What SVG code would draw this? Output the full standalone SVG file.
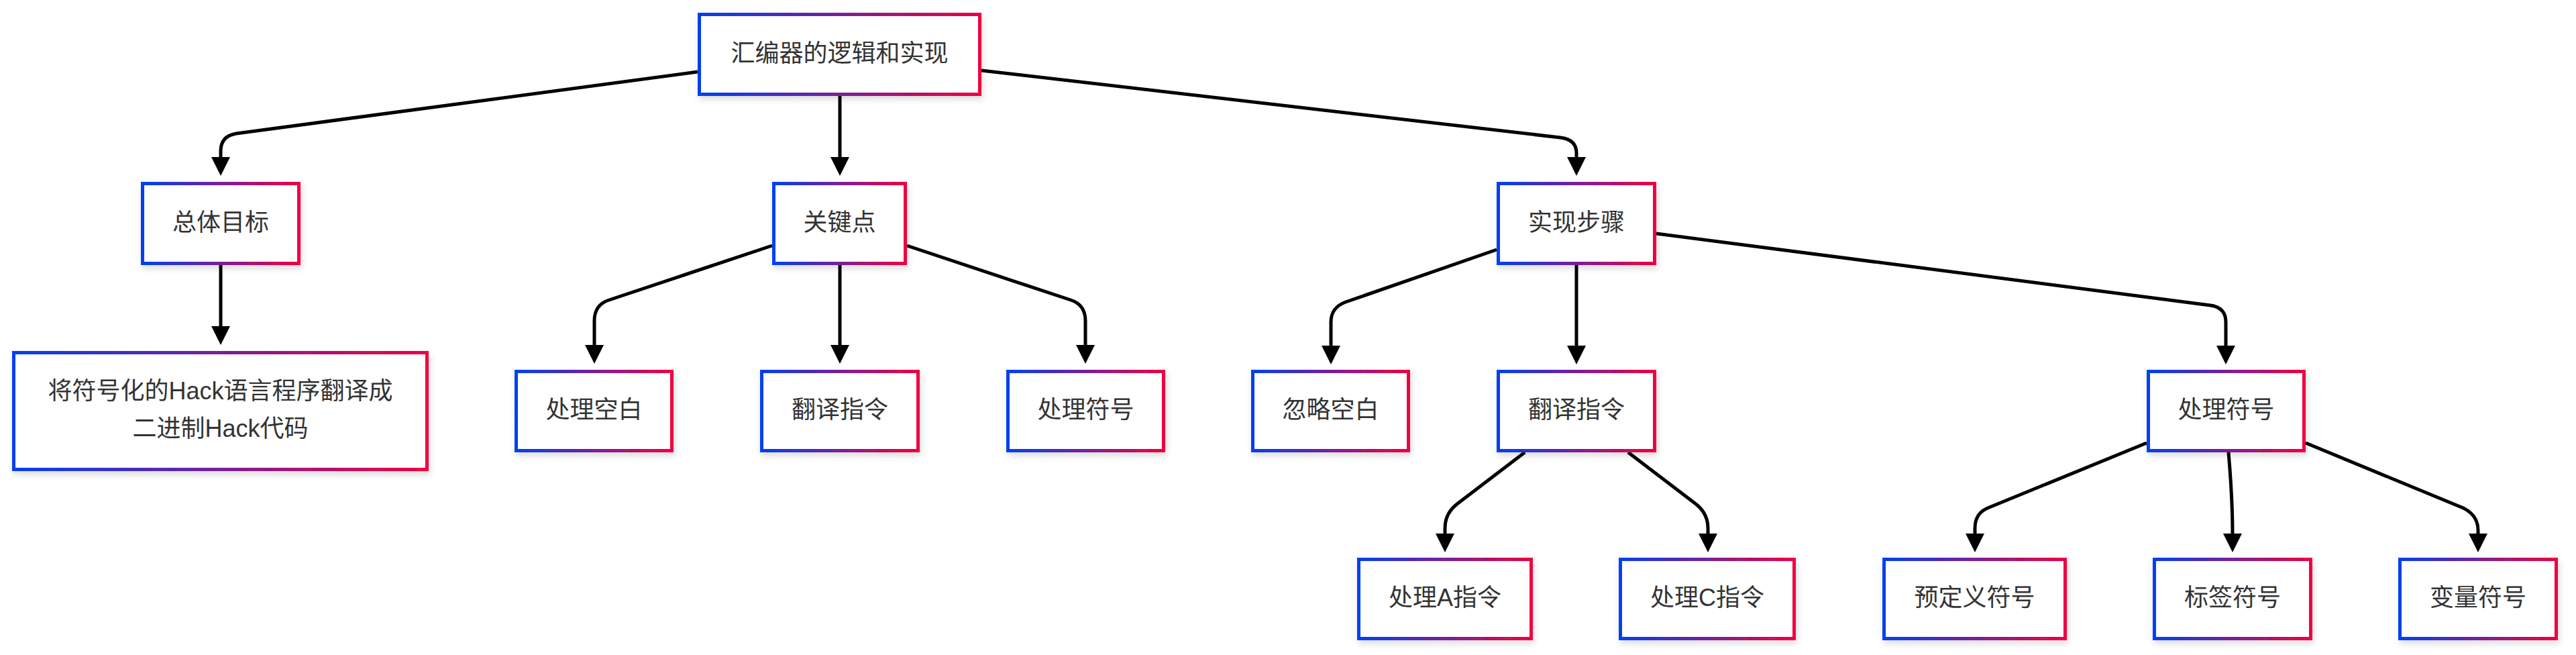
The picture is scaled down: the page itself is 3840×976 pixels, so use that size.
<svg xmlns="http://www.w3.org/2000/svg" width="3840" height="976" viewBox="0 0 3840 976">
<defs>
<linearGradient id="g" x1="0" y1="0" x2="1" y2="0">
<stop offset="0" stop-color="#0040f0"/>
<stop offset="1" stop-color="#f00040"/>
</linearGradient>
<filter id="sh" x="-10%" y="-20%" width="120%" height="150%">
<feDropShadow dx="2" dy="5" stdDeviation="5" flood-color="#000" flood-opacity="0.14"/>
</filter>
<marker id="ah" viewBox="0 0 10 10" refX="0" refY="5" markerUnits="userSpaceOnUse" markerWidth="28" markerHeight="34" orient="auto">
<path d="M0,0 L10,5 L0,10 z" fill="#000"/>
</marker>
<style>
.n rect{fill:#fff;stroke:url(#g);stroke-width:5;filter:url(#sh)}
.n text{font-family:"Liberation Sans","Noto Sans CJK SC",sans-serif;font-size:36px;fill:#333;text-anchor:middle;dominant-baseline:central}
.e path{fill:none;stroke:#000;stroke-width:5;marker-end:url(#ah)}
</style>
</defs>
<rect width="3840" height="976" fill="#fff"/>
<g class="e" id="edges">
<path d="M1040,107 L352,199 Q329,203 329,225 L329,234"/>
<path d="M1252,143 L1252,234"/>
<path d="M1463,105 L2326,205 Q2350,208 2350,228 L2350,234"/>
<path d="M329,395 L329,486"/>
<path d="M1151,366 L908,447 Q886,454 886,478 L886,514"/>
<path d="M1252,395 L1252,514"/>
<path d="M1352,366 L1596,447 Q1618,454 1618,478 L1618,514"/>
<path d="M2231,372 L2006,450 Q1984,458 1984,480 L1984,515"/>
<path d="M2350,394 L2350,515"/>
<path d="M2469,348 L3295,455 Q3318,458 3318,480 L3318,515"/>
<path d="M2273,674 L2172,751 Q2154,765 2154,787 L2154,795"/>
<path d="M2427,674 L2528,751 Q2546,765 2546,787 L2546,795"/>
<path d="M3200,660 L2963,757 Q2944,765 2944,787 L2944,795"/>
<path d="M3322,674 C3326,720 3328,750 3328,795"/>
<path d="M3437,660 L3672,757 Q3694,768 3694,790 L3694,795"/>
</g>
<g class="n" id="root"><rect x="1042.5" y="21.5" width="418" height="119"/><text x="1251.5" y="79">汇编器的逻辑和实现</text></g>
<g class="n" id="goal"><rect x="212.5" y="273.5" width="233" height="119"/><text x="329" y="331">总体目标</text></g>
<g class="n" id="key"><rect x="1153.5" y="273.5" width="196" height="119"/><text x="1251.5" y="331">关键点</text></g>
<g class="n" id="steps"><rect x="2233.5" y="273.5" width="233" height="119"/><text x="2350" y="331">实现步骤</text></g>
<g class="n" id="goaldesc"><rect x="20.5" y="525.5" width="616" height="174"/><text x="328.5" y="582">将符号化的Hack语言程序翻译成</text><text x="328.5" y="638">二进制Hack代码</text></g>
<g class="n" id="k1"><rect x="769.5" y="553.5" width="232" height="118"/><text x="885.5" y="610.5">处理空白</text></g>
<g class="n" id="k2"><rect x="1135.5" y="553.5" width="233" height="118"/><text x="1252" y="610.5">翻译指令</text></g>
<g class="n" id="k3"><rect x="1502.5" y="553.5" width="232" height="118"/><text x="1618.5" y="610.5">处理符号</text></g>
<g class="n" id="s1"><rect x="1867.5" y="553.5" width="232" height="118"/><text x="1983.5" y="610.5">忽略空白</text></g>
<g class="n" id="s2"><rect x="2233.5" y="553.5" width="233" height="118"/><text x="2350" y="610.5">翻译指令</text></g>
<g class="n" id="s3"><rect x="3202.5" y="553.5" width="232" height="118"/><text x="3318.5" y="610.5">处理符号</text></g>
<g class="n" id="a"><rect x="2025.5" y="833.5" width="257" height="118"/><text x="2154" y="890.5">处理A指令</text></g>
<g class="n" id="c"><rect x="2415.5" y="833.5" width="259" height="118"/><text x="2545" y="890.5">处理C指令</text></g>
<g class="n" id="pre"><rect x="2808.5" y="833.5" width="270" height="118"/><text x="2943.5" y="890.5">预定义符号</text></g>
<g class="n" id="lab"><rect x="3211.5" y="833.5" width="233" height="118"/><text x="3328" y="890.5">标签符号</text></g>
<g class="n" id="var"><rect x="3577.5" y="833.5" width="233" height="118"/><text x="3694" y="890.5">变量符号</text></g>
</svg>
